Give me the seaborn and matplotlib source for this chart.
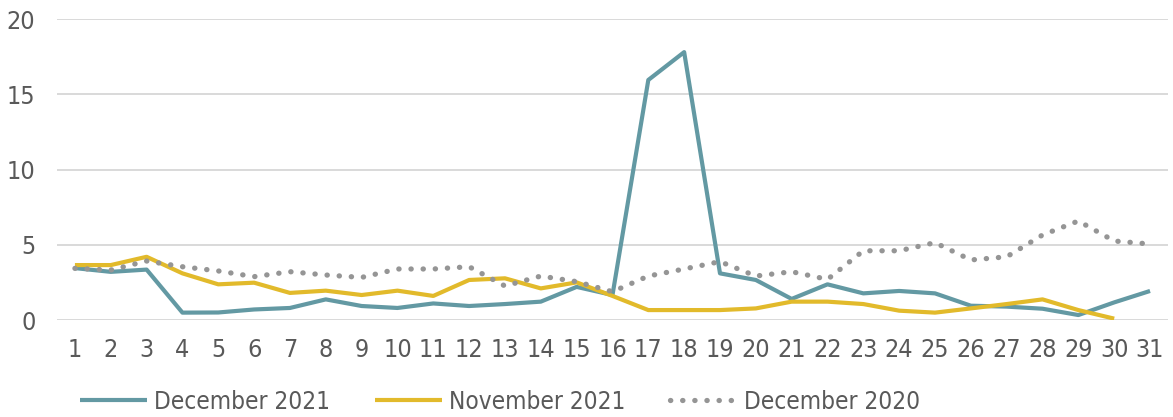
import matplotlib
matplotlib.use("Agg")
import matplotlib.pyplot as plt
import seaborn as sns
import pandas as pd

# Data
days = list(range(1, 32))
dec_2021 = [3.45, 3.2, 3.35, 0.49, 0.5, 0.7, 0.8, 1.37, 0.93, 0.8, 1.1, 0.93, 1.06, 1.22, 2.2, 1.66,
            15.95, 17.8, 3.1, 2.66, 1.4, 2.37, 1.77, 1.93, 1.77, 0.95, 0.89, 0.75, 0.33, 1.17, 1.93]
nov_2021 = [3.65, 3.65, 4.2, 3.1, 2.37, 2.48, 1.8, 1.95, 1.66, 1.95, 1.6, 2.66, 2.77, 2.1, 2.5, 1.6,
            0.66, 0.66, 0.66, 0.77, 1.22, 1.22, 1.06, 0.62, 0.49, 0.77, 1.06, 1.37, 0.66, 0.09, None]
dec_2020 = [3.43, 3.32, 3.92, 3.54, 3.26, 2.88, 3.21, 2.99, 2.83, 3.39, 3.39, 3.54, 2.26, 2.92, 2.55, 1.88,
            2.92, 3.39, 3.88, 2.92, 3.21, 2.7, 4.6, 4.6, 5.14, 3.99, 4.2, 5.65, 6.58, 5.25, 5.05]
yticks = [0, 5, 10, 15, 20]

df = pd.DataFrame({"day": days, "December 2021": dec_2021,
                   "November 2021": nov_2021, "December 2020": dec_2020})

sns.set_style("white")
plt.rcParams["font.family"] = ["DejaVu Sans"]
plt.rcParams["font.stretch"] = "condensed"
text_col = "#595959"

fig = plt.figure(figsize=(11.73, 4.17), dpi=100)
ax = fig.add_axes([0.0486, 0.2326, 0.9471, 0.7218])

sns.lineplot(data=df, x="day", y="December 2021", ax=ax, color="#6399A3", lw=3,
             label="December 2021", solid_capstyle="butt")
sns.lineplot(data=df.dropna(), x="day", y="November 2021", ax=ax, color="#E2BA2B", lw=3,
             label="November 2021", solid_capstyle="butt")
sns.lineplot(data=df, x="day", y="December 2020", ax=ax, color="#959595", lw=3.8,
             label="December 2020", linestyle=(0, (0.05, 2.25)), dash_capstyle="round")

ax.set_xlim(0.5, 31.5)
ax.set_ylim(0, 20)
ax.set_yticks(yticks)
ax.set_xticks(days)
ax.set_xlabel("")
ax.set_ylabel("")
ax.grid(axis="y", color="#D9D9D9", lw=1.4)
ax.set_axisbelow(True)
for s in ax.spines.values():
    s.set_visible(False)
ax.tick_params(axis="both", length=0, labelsize=18, colors=text_col)
ax.tick_params(axis="x", pad=13)
ax.tick_params(axis="y", pad=15.5)

handles, labels = ax.get_legend_handles_labels()
ax.get_legend().remove()
fig.legend(handles, labels, loc="center left", bbox_to_anchor=(0.068, 0.036), ncol=3,
           frameon=False, fontsize=17.5, labelcolor=text_col, handlelength=2.75,
           handletextpad=0.3, columnspacing=1.85, borderaxespad=0, borderpad=0)

fig.savefig("out.png", dpi=100)
